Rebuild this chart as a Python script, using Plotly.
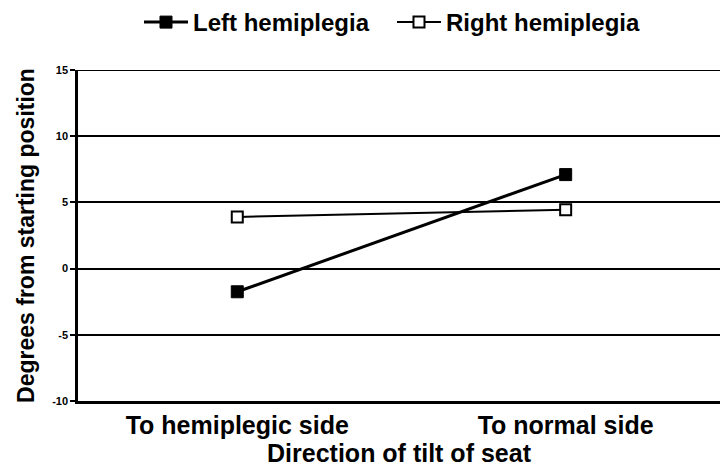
import plotly.graph_objects as go

categories = ["To hemiplegic side", "To normal side"]
left_hemiplegia = [-1.75, 7.1]
right_hemiplegia = [3.9, 4.45]
y_ticks = [-10, -5, 0, 5, 10, 15]

FONT = "Liberation Sans, Arial, sans-serif"
FS = 25

fig = go.Figure()
fig.add_trace(go.Scatter(
    x=[0, 1], y=left_hemiplegia, name="Left hemiplegia", mode="lines+markers",
    line=dict(color="black", width=3),
    marker=dict(symbol="square", size=12, color="black", line=dict(color="black", width=1)),
))
fig.add_trace(go.Scatter(
    x=[0, 1], y=right_hemiplegia, name="Right hemiplegia", mode="lines+markers",
    line=dict(color="black", width=2),
    marker=dict(symbol="square", size=11, color="white", line=dict(color="black", width=2)),
))

# top gridline at 15 (edge of range)
fig.add_shape(type="line", xref="paper", yref="y", x0=0, x1=1, y0=15, y1=15,
              line=dict(color="black", width=2))

fig.update_layout(
    width=722, height=468,
    margin=dict(l=78, r=2, t=70, b=67),
    paper_bgcolor="white", plot_bgcolor="white",
    font=dict(family=FONT, color="black", size=FS),
    showlegend=True,
    legend=dict(orientation="h", x=0.095, xanchor="left", y=1.0, yanchor="top",
                yref="container", font=dict(size=24, weight="bold"),
                entrywidth=194, entrywidthmode="pixels",
                itemwidth=44, bgcolor="rgba(0,0,0,0)"),
    xaxis=dict(
        tickmode="array", tickvals=[0, 1], ticktext=categories,
        range=[-0.485, 1.47], showgrid=False, zeroline=False, automargin=False,
        showline=True, linecolor="black", linewidth=2.5,
        ticks="", ticklen=0,
        tickfont=dict(size=FS, weight="bold"),
        title=dict(text="Direction of tilt of seat", font=dict(size=FS, weight="bold"), standoff=0),
    ),
    yaxis=dict(
        range=[-10, 15], tickvals=y_ticks, ticktext=[str(v) for v in y_ticks],
        showgrid=True, gridcolor="black", gridwidth=2, zeroline=False, automargin=False,
        showline=True, linecolor="black", linewidth=2.5,
        ticks="outside", ticklen=5, tickcolor="black", tickwidth=2,
        tickfont=dict(size=11, weight="bold"),
        title=dict(text="Degrees from starting position", font=dict(size=23, weight="bold"), standoff=12),
    ),
)

fig.write_html(
    "out.html",
    config={"displayModeBar": False},
    post_script="document.body.style.margin='0';document.body.style.overflow='hidden';",
)
